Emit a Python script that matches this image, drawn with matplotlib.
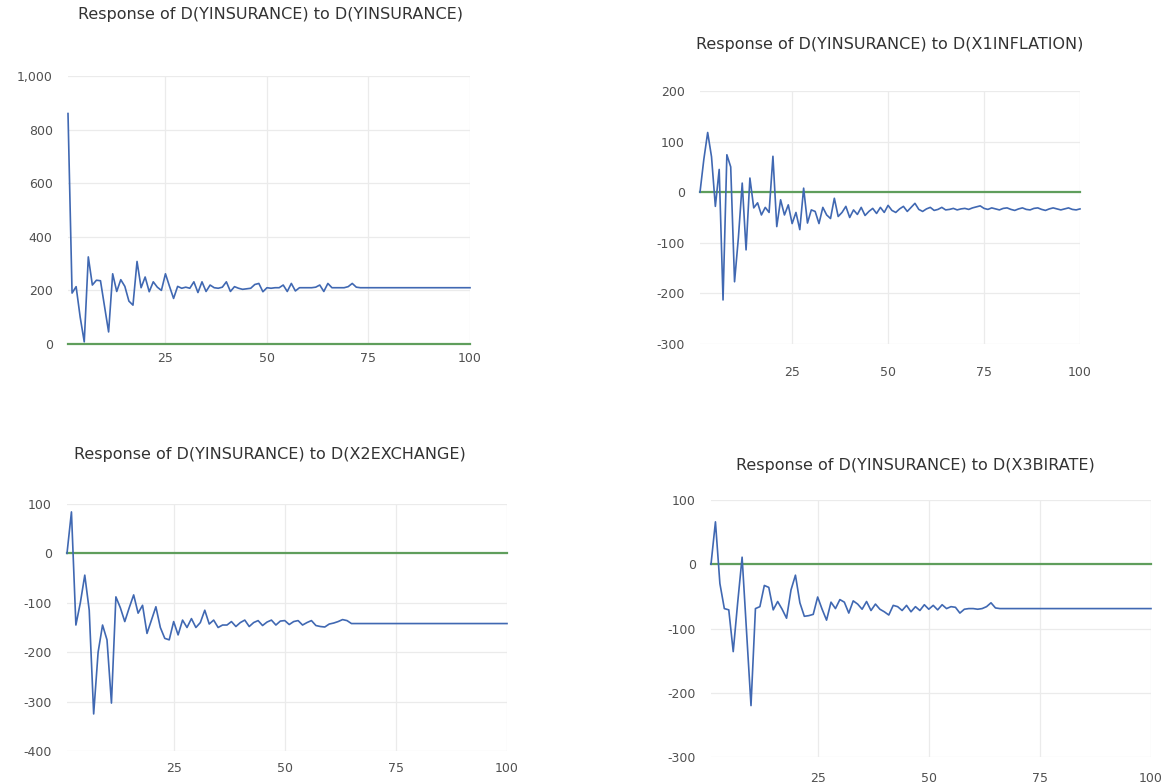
import matplotlib.pyplot as plt

plt.rcParams['axes.unicode_minus'] = False

# periods 1..100
periods = list(range(1, 101))

titles = [
    "Response of D(YINSURANCE) to D(YINSURANCE)",
    "Response of D(YINSURANCE) to D(X1INFLATION)",
    "Response of D(YINSURANCE) to D(X2EXCHANGE)",
    "Response of D(YINSURANCE) to D(X3BIRATE)",
]

resp_yins = [
    860, 190, 214, 100, 8, 325, 220, 238, 236, 140,
    45, 262, 196, 240, 215, 160, 145, 308, 210, 250,
    195, 232, 212, 200, 262, 215, 170, 215, 208, 212,
    208, 232, 192, 232, 196, 220, 210, 208, 212, 232,
    196, 214, 208, 204, 206, 208, 222, 226, 195, 210,
    208, 210, 210, 220, 196, 226, 198, 210, 210, 210,
    210, 212, 220, 196, 226, 210, 210, 210, 210, 214,
    226, 212, 210, 210, 210, 210, 210, 210, 210, 210,
    210, 210, 210, 210, 210, 210, 210, 210, 210, 210,
    210, 210, 210, 210, 210, 210, 210, 210, 210, 210,
]

resp_x1 = [
    0, 65, 118, 70, -28, 45, -213, 74, 50, -177,
    -90, 18, -114, 28, -31, -21, -45, -30, -40, 71,
    -68, -15, -45, -25, -62, -40, -74, 8, -61, -35,
    -38, -62, -30, -45, -52, -12, -48, -40, -28, -50,
    -35, -44, -30, -46, -38, -32, -42, -30, -40, -26,
    -36, -40, -33, -28, -38, -30, -22, -34, -38, -33,
    -30, -36, -34, -30, -35, -34, -32, -35, -33, -32,
    -34, -31, -29, -27, -32, -34, -31, -33, -35, -32,
    -31, -34, -36, -33, -31, -34, -35, -32, -31, -34,
    -36, -33, -31, -33, -35, -33, -31, -34, -35, -33,
]

resp_x2 = [
    0, 84, -145, -100, -44, -115, -325, -200, -145, -175,
    -303, -88, -110, -138, -110, -84, -121, -105, -162, -135,
    -108, -150, -172, -175, -138, -165, -135, -150, -132, -150,
    -140, -115, -143, -135, -150, -145, -145, -138, -148, -140,
    -135, -148, -140, -136, -146, -139, -135, -145, -137, -136,
    -144, -138, -136, -145, -140, -136, -146, -148, -149, -143,
    -141, -138, -134, -136, -142, -142, -142, -142, -142, -142,
    -142, -142, -142, -142, -142, -142, -142, -142, -142, -142,
    -142, -142, -142, -142, -142, -142, -142, -142, -142, -142,
    -142, -142, -142, -142, -142, -142, -142, -142, -142, -142,
]

resp_x3 = [
    0, 66, -30, -69, -71, -136, -60, 11, -105, -220,
    -69, -66, -33, -36, -71, -58, -70, -84, -40, -17,
    -60, -81, -80, -78, -51, -70, -87, -59, -69, -55,
    -59, -76, -57, -62, -70, -58, -72, -62, -70, -74,
    -79, -64, -66, -72, -64, -74, -66, -72, -63, -70,
    -64, -71, -63, -69, -66, -67, -76, -70, -69, -69,
    -70, -69, -66, -60, -68, -69, -69, -69, -69, -69,
    -69, -69, -69, -69, -69, -69, -69, -69, -69, -69,
    -69, -69, -69, -69, -69, -69, -69, -69, -69, -69,
    -69, -69, -69, -69, -69, -69, -69, -69, -69, -69,
]

zero_line = [0] * 100

y_limits = [(0, 1000), (-300, 200), (-400, 100), (-300, 100)]
y_ticks = [
    [0, 200, 400, 600, 800, 1000],
    [-300, -200, -100, 0, 100, 200],
    [-400, -300, -200, -100, 0, 100],
    [-300, -200, -100, 0, 100],
]
x_ticks = [25, 50, 75, 100]

W, H = 1172, 783
# axes boxes in pixels: left, top, right, bottom
boxes = [(68, 76, 470, 344), (700, 91, 1080, 344), (67, 504, 507, 751), (711, 500, 1151, 757)]
title_pos = [(270, 15), (890, 45), (270, 455), (915, 466)]
xlab_pad = [6, 16, 8, 11]

BLUE = "#4068b2"
GREEN = "#5f9e5c"
GRID = "#ebebeb"
TXT = "#505050"

fig = plt.figure(figsize=(W / 100, H / 100), dpi=100)
series = [resp_yins, resp_x1, resp_x2, resp_x3]

for i, vals in enumerate(series):
    l, t, r, b = boxes[i]
    ax = fig.add_axes([l / W, 1 - b / H, (r - l) / W, (b - t) / H])
    ax.plot(periods, zero_line, color=GREEN, lw=1.6, clip_on=False, zorder=2)
    ax.plot(periods, vals, color=BLUE, lw=1.2, clip_on=False, zorder=3)
    ax.set_xlim(1, 100)
    ax.set_ylim(*y_limits[i])
    ax.set_xticks(x_ticks)
    ax.set_yticks(y_ticks[i])
    if i == 0:
        ax.set_yticklabels([f"{v:,}" for v in y_ticks[i]])
    ax.grid(True, color=GRID, lw=0.9)
    ax.set_axisbelow(True)
    for s in ax.spines.values():
        s.set_visible(False)
    ax.tick_params(axis="both", length=0, labelsize=9, colors=TXT)
    ax.tick_params(axis="y", pad=11)
    ax.tick_params(axis="x", pad=xlab_pad[i])
    tx, ty = title_pos[i]
    fig.text(tx / W, 1 - ty / H, titles[i], ha="center", va="center",
             fontsize=11.5, color="#333333")

plt.savefig("out.png", dpi=100)
